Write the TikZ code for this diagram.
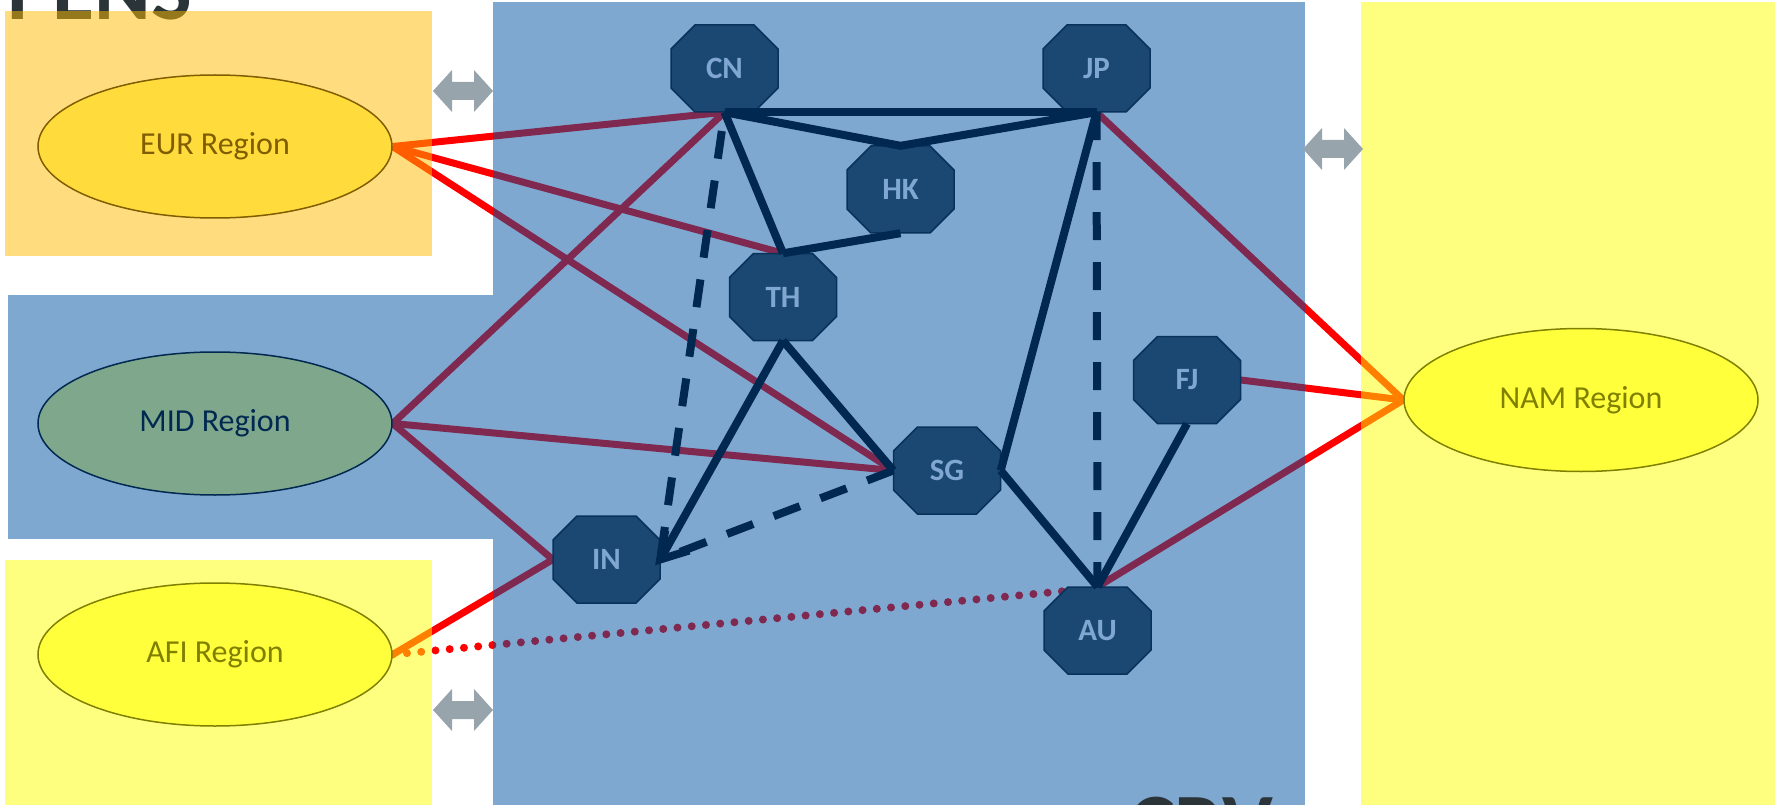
\documentclass[tikz,border=0pt]{standalone}
\usepackage{fontspec}
\setmainfont{Carlito}
\usetikzlibrary{shapes.geometric,arrows.meta,calc}
\definecolor{ellfill}{RGB}{255,255,120}
\definecolor{octfillc}{RGB}{54,63,69}
\definecolor{octdraw}{RGB}{20,20,20}
\definecolor{orangebase}{RGB}{255,187,0}
\definecolor{bluebase}{RGB}{0,81,161}
\definecolor{yellowbase}{RGB}{255,255,0}
\definecolor{titlegray}{RGB}{43,53,57}
\definecolor{arrowgray}{RGB}{152,164,172}
\pgfdeclarelayer{lowest}
\pgfdeclarelayer{linklayer}
\pgfdeclarelayer{navylayer}
\pgfdeclarelayer{veillayer}
\pgfdeclarelayer{toplayer}
\pgfsetlayers{lowest,linklayer,main,navylayer,veillayer,toplayer}
\tikzset{
  region/.style={ellipse, draw=black, line width=1.5pt, fill=ellfill,
    minimum width=354pt, minimum height=143pt, inner sep=0pt,
    font=\fontsize{32}{36}\selectfont, text=black},
  octlabel/.style={rectangle, minimum width=107pt, minimum height=87pt,
    inner sep=0pt, text=white, font=\bfseries\fontsize{31}{36}\selectfont},
  octshape/.style={fill=octfillc, draw=octdraw, line width=1.5pt},
  link/.style={draw=red, line width=7pt},
  navyl/.style={draw=black, line width=8pt},
  navyd/.style={draw=black, line width=8pt, dash pattern=on 28pt off 22pt},
  dotl/.style={draw=red, line width=8pt, line cap=round, dash pattern=on 0pt off 14.3pt},
  veil/.style={fill opacity=0.5},
  bigtitle/.style={inner sep=0pt, text=titlegray, font=\bfseries\fontsize{86}{96}\selectfont},
}
\newcommand\octnode[4]{%
  \filldraw[octshape] (#2-29.5,#3-43.5) -- (#2+29.5,#3-43.5) -- (#2+53.5,#3-19.5)
    -- (#2+53.5,#3+19.5) -- (#2+29.5,#3+43.5) -- (#2-29.5,#3+43.5)
    -- (#2-53.5,#3+19.5) -- (#2-53.5,#3-19.5) -- cycle;
  \node[octlabel] (#1) at (#2,#3) {#4};}
\newcommand\dblarrow[2]{%
  \fill[arrowgray] (#1-30,#2) -- (#1-11,#2-21) -- (#1-11,#2-9) -- (#1+11,#2-9)
    -- (#1+11,#2-21) -- (#1+30,#2) -- (#1+11,#2+21) -- (#1+11,#2+9)
    -- (#1-11,#2+9) -- (#1-11,#2+21) -- cycle;}
\begin{document}
\begin{tikzpicture}[x=1pt,y=-1pt]
\useasboundingbox (0,0) rectangle (1775,805);
% region ellipses
\node[region] (EUR) at (215,146.5) {EUR Region};
\node[region] (MID) at (215,423.5) {MID Region};
\node[region] (AFI) at (215,654.5) {AFI Region};
\node[region] (NAM) at (1581,400) {NAM Region};
% octagon nodes
\octnode{CN}{724.5}{68.5}{CN}
\octnode{JP}{1096.5}{68.5}{JP}
\octnode{HK}{900.5}{189.5}{HK}
\octnode{TH}{783}{297}{TH}
\octnode{SG}{947}{470.5}{SG}
\octnode{IN}{606.5}{559.5}{IN}
\octnode{FJ}{1187}{380}{FJ}
\octnode{AU}{1097.5}{630.5}{AU}
\begin{pgfonlayer}{lowest}
  \node[bigtitle, anchor=base west] (PENS) at (7,20) {PENS};
\end{pgfonlayer}
\begin{pgfonlayer}{linklayer}
  \draw[link] (EUR.east) -- (CN.south);
  \draw[link] (EUR.east) -- (TH.north);
  \draw[link] (EUR.east) -- (SG.west);
  \draw[link] (MID.east) -- (CN.south);
  \draw[link] (MID.east) -- (SG.west);
  \draw[link] (MID.east) -- (IN.west);
  \draw[link] (AFI.east) -- (IN.west);
  \draw[link] (NAM.west) -- (JP.south);
  \draw[link] (NAM.west) -- (FJ.east);
  \draw[link] (NAM.west) -- (AU.north);
  \draw[dotl] (AFI.east) -- ($(AU.north)+(-30,4)$);
\end{pgfonlayer}
\begin{pgfonlayer}{navylayer}
  \draw[navyl] (CN.south) -- (JP.south);
  \draw[navyl] (CN.south) -- (HK.north) -- (JP.south);
  \draw[navyl] (CN.south) -- (TH.north);
  \draw[navyl] (HK.south) -- (TH.north);
  \draw[navyl] (TH.south) -- (IN.east);
  \draw[navyl, line join=miter] ($(IN.east)+(5,-29)$) -- (IN.east) -- ($(IN.east)+(29,-9)$);
  \draw[navyl] (TH.south) -- (SG.west);
  \draw[navyl] (SG.east) -- (JP.south);
  \draw[navyl] (SG.east) -- (AU.north);
  \draw[navyl] (FJ.south) -- (AU.north);
  \draw[navyd] (JP.south) -- (AU.north);
  \draw[navyd, dash phase=31pt] (CN.south) -- (IN.east);
  \draw[navyd] (SG.west) -- (IN.east);
\end{pgfonlayer}
\begin{pgfonlayer}{veillayer}
  \fill[orangebase, veil] (5,11) rectangle (432,256);
  \fill[bluebase, veil] (8,295) rectangle (493,539);
  \fill[yellowbase, veil] (5,560) rectangle (432,805);
  \fill[bluebase, veil] (493,2) rectangle (1305,805);
  \fill[yellowbase, veil] (1361,2) rectangle (1775,805);
\end{pgfonlayer}
\begin{pgfonlayer}{toplayer}
  \node[bigtitle, anchor=base west] (CRV) at (1129,853) {CRV};
  \dblarrow{463}{91}
  \dblarrow{1333}{149}
  \dblarrow{463}{710}
\end{pgfonlayer}
\end{tikzpicture}
\end{document}
